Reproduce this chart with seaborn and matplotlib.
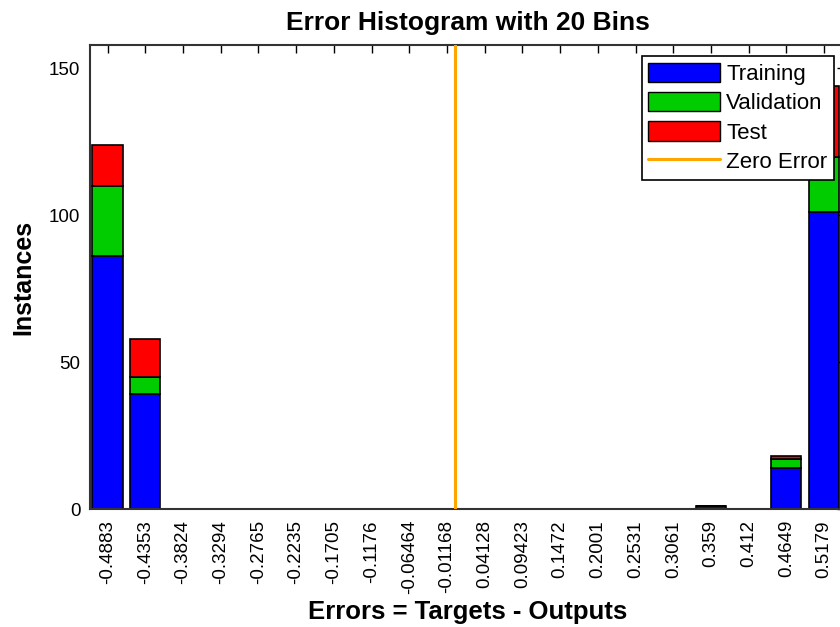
import matplotlib
matplotlib.use("Agg")
import matplotlib.pyplot as plt
import seaborn as sns
import numpy as np
import pandas as pd
from matplotlib.patches import Patch
from matplotlib.lines import Line2D

# bin centres as printed on the x axis
bin_labels = ['-0.4883', '-0.4353', '-0.3824', '-0.3294', '-0.2765', '-0.2235',
              '-0.1705', '-0.1176', '-0.06464', '-0.01168', '0.04128', '0.09423',
              '0.1472', '0.2001', '0.2531', '0.3061', '0.359', '0.412', '0.4649', '0.5179']
training = [86, 39, 0, 0, 0, 0, 0, 0, 0, 0, 0, 0, 0, 0, 0, 0, 1, 0, 14, 101]
validation = [24, 6, 0, 0, 0, 0, 0, 0, 0, 0, 0, 0, 0, 0, 0, 0, 0, 0, 3, 19]
test = [14, 13, 0, 0, 0, 0, 0, 0, 0, 0, 0, 0, 0, 0, 0, 0, 0, 0, 1, 24]

centers = np.array([float(s) for s in bin_labels])
width = np.diff(centers).mean()
edges = list(np.append(centers - width / 2, centers[-1] + width / 2))

df = pd.concat([
    pd.DataFrame({'err': centers, 'count': training, 'set': 'Training'}),
    pd.DataFrame({'err': centers, 'count': validation, 'set': 'Validation'}),
    pd.DataFrame({'err': centers, 'count': test, 'set': 'Test'}),
], ignore_index=True)

colors = {'Training': '#0000ff', 'Validation': '#00cc00', 'Test': '#ff0000'}
zero_color = '#ffa500'

sns.set_style('white')
plt.rcParams['font.family'] = ['Liberation Sans', 'DejaVu Sans']
plt.rcParams['text.color'] = 'black'
plt.rcParams['axes.labelcolor'] = 'black'

fig = plt.figure(figsize=(8.4, 6.27), dpi=100)
ax = fig.add_axes([90 / 840, 1 - 509 / 627, 755 / 840, 464 / 627])

# first hue level ends up on top of the stack
sns.histplot(data=df, x='err', weights='count', hue='set',
             hue_order=['Test', 'Validation', 'Training'],
             multiple='stack', bins=edges, shrink=0.8, palette=colors,
             edgecolor='black', linewidth=1.2, alpha=1, legend=False, ax=ax)

ax.axvline(0, color=zero_color, lw=2.2, zorder=3)

ax.set_xlim(-0.5129, 0.5472)
ax.set_ylim(0, 158)
ax.set_xticks(centers, bin_labels, rotation=90)
ax.set_yticks([0, 50, 100, 150])
ax.tick_params(axis='both', direction='in', length=6, width=1, top=True, right=True,
               labelsize=13.5, colors='black', pad=8)
ax.tick_params(axis='y', pad=7)
for sp in ax.spines.values():
    sp.set_color('#333333')
    sp.set_linewidth(1.5)

ax.set_title('Error Histogram with 20 Bins', fontsize=19, fontweight='bold', pad=11)
ax.set_xlabel('Errors = Targets - Outputs', fontsize=18.5, fontweight='bold', labelpad=4)
ax.set_ylabel('Instances', fontsize=18, fontweight='bold', labelpad=10)

handles = [Patch(facecolor=colors['Training'], edgecolor='black', label='Training'),
           Patch(facecolor=colors['Validation'], edgecolor='black', label='Validation'),
           Patch(facecolor=colors['Test'], edgecolor='black', label='Test'),
           Line2D([0], [0], color=zero_color, lw=2.2, label='Zero Error')]
leg = ax.legend(handles=handles, loc='upper right', bbox_to_anchor=(834 / 840, 1 - 56 / 627),
                bbox_transform=fig.transFigure, fontsize=16, frameon=True, fancybox=False,
                framealpha=1, edgecolor='black', handlelength=3.2, handleheight=0.95,
                handletextpad=0.3, labelspacing=0.32, borderpad=0.3, borderaxespad=0)
leg.get_frame().set_linewidth(1.2)

fig.savefig('out.png', dpi=100)
